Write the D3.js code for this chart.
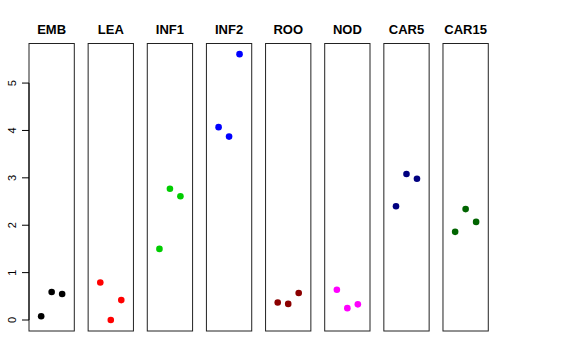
<!DOCTYPE html>
<html>
<head>
<meta charset="utf-8">
<script src="https://cdn.jsdelivr.net/npm/d3@7"></script>
<style>
  body { margin: 0; background: #fff; }
  text { font-family: "Liberation Sans", Arial, sans-serif; }
</style>
</head>
<body>
<script>
var svgWidth = 576;
var svgHeight = 360;

// groups, colours and the three replicate values per group
var groups = ["EMB", "LEA", "INF1", "INF2", "ROO", "NOD", "CAR5", "CAR15"];
var colors = ["#000000", "#FF0000", "#00CD00", "#0000FF", "#8B0000", "#FF00FF", "#000080", "#006400"];
var rep1 = [0.08, 0.79, 1.50, 4.07, 0.37, 0.64, 2.40, 1.86];
var rep2 = [0.59, 0.00, 2.77, 3.87, 0.34, 0.25, 3.08, 2.34];
var rep3 = [0.55, 0.42, 2.61, 5.61, 0.57, 0.33, 2.98, 2.07];
var yTicks = [0, 1, 2, 3, 4, 5];

var panelW = 45.3, panelStep = 59.14, left0 = 29;
var plotTop = 43.5, plotBottom = 331;

var svg = d3.select("body")
  .append("svg")
  .attr("width", svgWidth)
  .attr("height", svgHeight);

var y = d3.scaleLinear()
  .domain([-0.232, 5.835])
  .range([plotBottom, plotTop]);

var x = d3.scaleLinear()
  .domain([-0.16, 4.16])
  .range([0, panelW]);

var panelX = d3.scaleLinear()
  .domain([0, 1])
  .range([left0, left0 + panelStep]);

var data = groups.map(function(g, i) {
  return { name: g, color: colors[i], values: [rep1[i], rep2[i], rep3[i]] };
});

var panel = svg.selectAll("g.panel")
  .data(data)
  .enter()
  .append("g")
  .attr("class", "panel")
  .attr("transform", function(d, i) { return "translate(" + panelX(i) + ",0)"; });

panel.append("rect")
  .attr("x", 0)
  .attr("y", plotTop)
  .attr("width", panelW)
  .attr("height", plotBottom - plotTop)
  .attr("fill", "none")
  .attr("stroke", "#222")
  .attr("stroke-width", 1);

panel.append("text")
  .attr("x", panelW / 2)
  .attr("y", 34)
  .attr("text-anchor", "middle")
  .attr("font-weight", "bold")
  .attr("font-size", "13px")
  .text(function(d) { return d.name; });

panel.selectAll("circle")
  .data(function(d) { return d.values.map(function(v, j) { return { v: v, j: j + 1, color: d.color }; }); })
  .enter()
  .append("circle")
  .attr("cx", function(d) { return x(d.j); })
  .attr("cy", function(d) { return y(d.v); })
  .attr("r", 3.3)
  .attr("fill", function(d) { return d.color; });

// y axis on the left of the first panel
var axis = svg.append("g")
  .attr("transform", "translate(" + left0 + ",0)");

axis.append("line")
  .attr("x1", 0).attr("x2", 0)
  .attr("y1", y(0)).attr("y2", y(5))
  .attr("stroke", "#000");

axis.selectAll("line.tick")
  .data(yTicks)
  .enter()
  .append("line")
  .attr("class", "tick")
  .attr("x1", -7).attr("x2", 0)
  .attr("y1", function(d) { return y(d); })
  .attr("y2", function(d) { return y(d); })
  .attr("stroke", "#000");

axis.selectAll("text")
  .data(yTicks)
  .enter()
  .append("text")
  .attr("transform", function(d) { return "translate(-13.5," + y(d) + ") rotate(-90)"; })
  .attr("text-anchor", "middle")
  .attr("font-size", "11px")
  .text(function(d) { return d; });
</script>
</body>
</html>
